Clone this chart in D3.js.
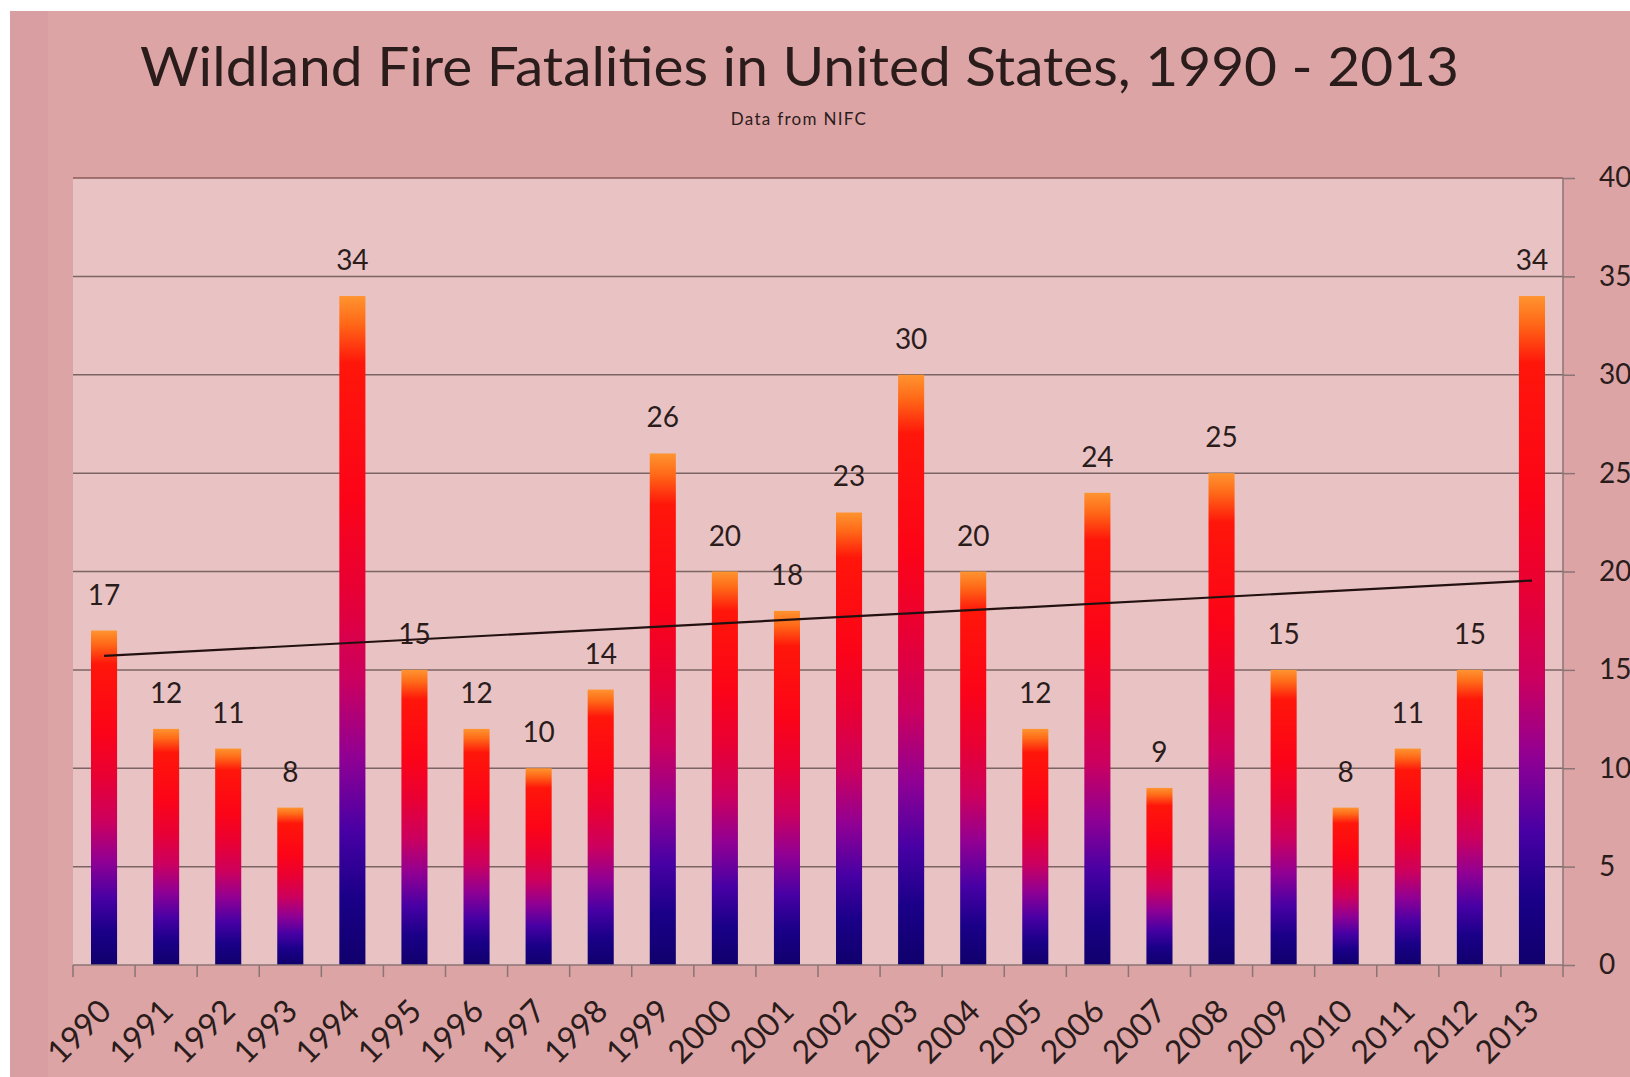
<!DOCTYPE html>
<html lang="en">
<head>
  <meta charset="UTF-8">
  <title>Wildland Fire Fatalities in United States, 1990 - 2013</title>
  <script src="https://d3js.org/d3.v7.min.js"></script>
  <style>
    body {
      margin: 0;
      background: #ffffff;
    }

    text {
      font-family: Lato, "Open Sans", sans-serif;
      fill: #2b1c1c;
    }

    .grid line {
      stroke: #7d6464;
      stroke-width: 1.5px;
    }

    .axis path,
    .axis line {
      stroke: #8a7474;
      stroke-width: 1.5px;
    }
  </style>
</head>
<body>
  <div id="chart"></div>

  <script>
    // Data (NIFC wildland fire fatalities)
    const years = ['1990', '1991', '1992', '1993', '1994', '1995', '1996', '1997',
                   '1998', '1999', '2000', '2001', '2002', '2003', '2004', '2005',
                   '2006', '2007', '2008', '2009', '2010', '2011', '2012', '2013'];
    const fatalities = [17, 12, 11, 8, 34, 15, 12, 10, 14, 26, 20, 18,
                        23, 30, 20, 12, 24, 9, 25, 15, 8, 11, 15, 34];
    const yTicks = [0, 5, 10, 15, 20, 25, 30, 35, 40];

    const width = 1630;
    const height = 1077;
    const plot = { left: 73, right: 1563, top: 178, bottom: 965 };

    const svg = d3.select('#chart')
                  .append('svg')
                  .attr('width', width)
                  .attr('height', height);

    // Backgrounds
    svg.append('rect')
       .attr('x', 10).attr('y', 11)
       .attr('width', width - 10).attr('height', height - 11)
       .attr('fill', '#dca4a5');

    svg.append('rect')
       .attr('x', 10).attr('y', 11)
       .attr('width', 38).attr('height', height - 11)
       .attr('fill', '#d99ea2');

    svg.append('rect')
       .attr('x', plot.left).attr('y', plot.top)
       .attr('width', plot.right - plot.left).attr('height', plot.bottom - plot.top)
       .attr('fill', '#e9c3c3');

    // Bar gradient, navy at the bottom up to orange at the top
    const grad = svg.append('defs')
                    .append('linearGradient')
                    .attr('id', 'barGrad')
                    .attr('x1', 0).attr('y1', 1)
                    .attr('x2', 0).attr('y2', 0);

    [[0, '#10006c'], [0.1, '#1a0088'], [0.2, '#4800a4'], [0.31, '#900094'],
     [0.43, '#cc005e'], [0.56, '#e80034'], [0.7, '#fc0418'], [0.9, '#ff160a'],
     [0.96, '#ff6a18'], [1, '#ff9430']].forEach(s => {
      grad.append('stop').attr('offset', s[0]).attr('stop-color', s[1]);
    });

    const x = d3.scaleBand()
                .domain(years)
                .range([plot.left, plot.right])
                .paddingInner(0.58)
                .paddingOuter(0.29);

    const xStep = d3.scaleBand().domain(years).range([plot.left, plot.right]);

    const y = d3.scaleLinear()
                .domain([0, 40])
                .range([plot.bottom, plot.top]);

    // Gridlines
    svg.append('g')
       .attr('class', 'grid')
       .selectAll('line')
       .data(yTicks.filter(d => d > 0))
       .enter()
       .append('line')
       .attr('x1', plot.left)
       .attr('x2', plot.right)
       .attr('y1', d => y(d))
       .attr('y2', d => y(d))
       .style('stroke', d => d === 40 ? '#8a5a5a' : null);

    // Bars
    svg.selectAll('.bar')
       .data(fatalities)
       .enter()
       .append('rect')
       .attr('class', 'bar')
       .attr('x', (d, i) => x(years[i]))
       .attr('y', d => y(d))
       .attr('width', x.bandwidth())
       .attr('height', d => y(0) - y(d))
       .attr('fill', 'url(#barGrad)');

    // Value labels
    svg.selectAll('.label')
       .data(fatalities)
       .enter()
       .append('text')
       .attr('class', 'label')
       .attr('x', (d, i) => x(years[i]) + x.bandwidth() / 2)
       .attr('y', d => y(d) - 26)
       .attr('text-anchor', 'middle')
       .style('font-size', '28px')
       .text(d => d);

    // Linear trendline (least squares over the series)
    const n = fatalities.length;
    const meanX = d3.mean(d3.range(n));
    const meanY = d3.mean(fatalities);
    const slope = d3.sum(fatalities, (v, i) => (i - meanX) * (v - meanY)) /
                  d3.sum(d3.range(n), i => (i - meanX) * (i - meanX));
    const intercept = meanY - slope * meanX;

    svg.append('line')
       .attr('x1', x(years[0]) + x.bandwidth() / 2)
       .attr('y1', y(intercept))
       .attr('x2', x(years[n - 1]) + x.bandwidth() / 2)
       .attr('y2', y(intercept + slope * (n - 1)))
       .attr('stroke', '#231010')
       .attr('stroke-width', 2.2);

    // Right y axis
    const yAxis = svg.append('g')
                     .attr('class', 'axis')
                     .attr('transform', `translate(${plot.right},0)`)
                     .call(d3.axisRight(y).tickValues(yTicks).tickSize(12));
    yAxis.select('.domain').attr('d', `M0,${plot.top}V${plot.bottom}`);
    yAxis.selectAll('text')
         .attr('x', 36)
         .attr('text-anchor', 'start')
         .style('font-size', '28px')
         .attr('fill', '#2b1c1c');

    // Bottom x axis, ticks at category boundaries
    const xAxis = svg.append('g').attr('class', 'axis');
    xAxis.append('line')
         .attr('x1', plot.left).attr('x2', plot.right)
         .attr('y1', plot.bottom).attr('y2', plot.bottom);
    xAxis.selectAll('.tick')
         .data(years.concat(['end']))
         .enter()
         .append('line')
         .attr('x1', (d, i) => plot.left + i * xStep.step())
         .attr('x2', (d, i) => plot.left + i * xStep.step())
         .attr('y1', plot.bottom)
         .attr('y2', plot.bottom + 12);

    xAxis.selectAll('.xlabel')
         .data(years)
         .enter()
         .append('text')
         .attr('class', 'xlabel')
         .attr('text-anchor', 'end')
         .attr('transform', d => `translate(${x(d) + x.bandwidth() / 2 + 9},${plot.bottom + 48}) rotate(-45)`)
         .style('font-size', '32px')
         .text(d => d);

    // Titles
    svg.append('text')
       .attr('x', 140)
       .attr('y', 86)
       .attr('textLength', 1319)
       .attr('lengthAdjust', 'spacingAndGlyphs')
       .style('font-size', '55px')
       .attr('fill', '#1e1010')
       .text('Wildland Fire Fatalities in United States,  1990 - 2013');

    svg.append('text')
       .attr('x', 799)
       .attr('y', 125)
       .attr('text-anchor', 'middle')
       .style('font-size', '17px')
       .style('letter-spacing', '1.3px')
       .text('Data from NIFC');
  </script>
</body>
</html>
